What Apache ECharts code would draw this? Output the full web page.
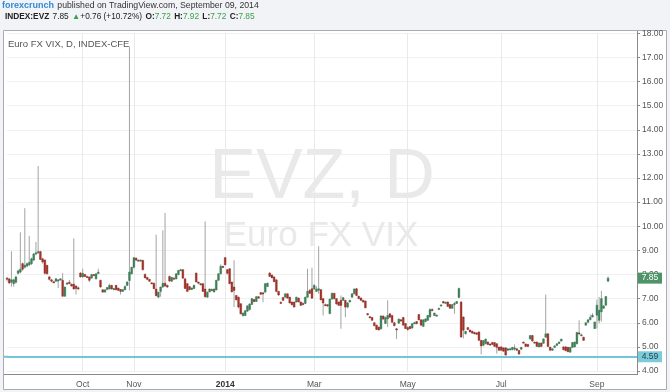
<!DOCTYPE html>
<html><head><meta charset="utf-8">
<script src="https://cdn.jsdelivr.net/npm/echarts@6/dist/echarts.min.js"></script>
<style>html,body{margin:0;padding:0;background:#f1f3f6;}#c{width:670px;height:392px;}</style>
</head><body><div id="c"></div>
<script>
// ---- data (EVZ daily) ----
const opens = [7.85,7.82,7.68,7.62,7.68,8.05,8.1,8.45,8.3,8.35,8.4,8.45,8.6,8.85,8.9,8.95,8.65,8.6,8.38,7.9,
7.78,7.7,7.72,7.76,7.8,7.76,7.1,7.62,7.68,7.6,7.6,7.52,7.45,8.06,7.9,8.0,7.92,7.9,7.85,8.0,
7.82,8.04,7.76,7.37,7.27,7.38,7.4,7.55,7.37,7.55,7.44,7.38,7.3,7.37,7.55,7.75,8.03,8.3,8.68,8.6,
8.58,8.59,8.0,7.88,7.8,7.66,7.64,7.4,7.06,7.3,7.48,7.64,7.55,7.92,7.72,7.85,7.82,8.0,8.17,8.2,
7.82,7.62,7.5,7.38,7.42,8.06,7.69,7.62,7.62,7.4,7.06,7.28,7.38,7.28,7.36,7.76,8.03,8.34,8.7,8.2,
8.24,7.69,7.48,7.13,7.06,6.79,6.3,6.3,6.48,6.55,6.76,6.96,6.88,7.08,7.25,7.24,7.27,7.5,8.06,7.98,
7.9,7.78,7.3,6.85,7.05,7.06,7.2,7.06,6.86,6.86,6.86,7.02,6.86,6.8,6.8,7.06,7.34,7.41,7.4,7.3,
7.35,7.37,7.0,6.75,6.75,6.38,6.98,7.22,7.0,6.86,6.93,6.93,6.93,6.65,6.86,7.06,7.2,7.41,7.1,7.03,
6.93,6.9,6.38,6.25,6.22,6.0,5.9,5.82,5.75,6.28,5.97,6.16,6.37,6.3,6.0,5.75,5.98,6.12,6.22,5.97,
5.8,5.85,5.78,5.98,6.05,6.34,6.12,5.85,6.05,6.1,6.25,6.55,6.3,6.3,6.55,6.7,6.88,6.84,6.86,6.76,
6.6,6.76,6.8,7.05,6.86,6.24,5.55,5.8,5.7,5.65,5.6,5.58,5.62,5.27,5.07,5.14,5.2,5.12,5.18,5.18,
5.13,4.99,5.0,4.96,4.96,4.86,4.9,4.88,4.95,4.92,4.85,4.9,5.2,5.12,5.1,5.33,5.47,5.2,5.2,5.0,
5.16,5.15,5.4,5.54,4.99,4.86,4.98,5.06,5.14,5.24,5.0,5.0,4.98,4.78,4.98,5.0,5.13,5.58,5.5,5.4,
5.9,6.02,6.13,6.24,5.76,6.31,6.1,6.45,6.6,6.73,7.72];
const highs = [7.9,7.85,8.96,7.82,7.95,8.2,9.75,8.5,10.75,8.5,9.6,8.7,8.9,9.35,12.5,8.98,8.7,8.62,8.4,7.95,
7.82,7.74,7.85,7.8,7.85,8.06,7.5,7.68,7.78,7.62,9.5,7.55,7.5,8.1,8.24,8.02,7.94,7.92,8.02,8.02,
8.05,8.24,7.78,7.38,7.4,7.48,7.62,7.57,7.44,7.57,7.45,7.4,7.4,7.55,7.72,17.45,8.32,8.72,8.7,8.62,
8.62,8.6,8.05,7.9,7.82,7.67,7.66,9.65,7.28,7.5,9.83,10.55,7.58,7.95,7.9,7.88,8.05,8.18,8.24,8.22,
7.84,7.65,7.52,7.46,7.58,8.08,7.7,7.64,7.64,10.2,7.3,7.42,7.42,7.42,7.78,8.05,8.42,8.36,8.72,8.22,
8.26,7.7,8.59,7.15,7.08,6.8,6.42,6.52,6.72,6.8,7.02,6.98,7.1,7.1,7.27,7.26,7.64,7.66,8.1,8.0,
7.92,7.8,7.32,6.88,7.06,7.22,7.22,7.08,6.88,6.88,7.08,7.04,6.88,6.84,7.08,8.24,7.4,8.28,7.6,7.52,
9.17,7.4,7.02,6.8,6.76,7.0,7.25,7.24,7.02,6.88,7.13,7.06,6.95,6.86,6.95,7.22,7.42,7.44,7.12,7.04,
6.95,6.92,6.4,6.28,6.24,6.02,5.92,5.84,6.32,6.3,6.25,6.93,6.4,6.32,6.02,5.78,6.18,6.15,6.24,5.98,
5.85,5.86,5.98,6.04,6.07,6.36,6.14,6.15,6.18,6.32,6.6,6.6,6.42,6.34,6.62,6.76,6.9,6.88,6.88,6.78,
6.78,6.86,6.9,7.46,6.9,6.26,5.66,5.82,5.72,5.67,5.62,5.6,5.64,5.28,5.28,5.35,5.22,5.14,5.2,5.2,
5.15,5.0,5.02,4.98,4.98,4.94,4.94,5.0,5.1,4.94,4.88,5.0,5.22,5.14,5.12,5.48,5.5,5.22,5.22,5.18,
5.18,5.35,7.17,5.56,5.0,4.94,5.06,5.15,5.22,5.34,5.02,5.02,5.0,5.0,5.2,5.22,5.62,6.1,5.55,5.42,
6.02,6.14,6.34,6.4,6.05,6.96,7.07,7.32,6.72,7.1,7.92];
const lows = [7.72,7.6,7.5,7.5,7.62,8.0,8.05,8.15,8.25,8.3,8.35,8.4,8.55,8.8,8.85,8.6,8.45,8.0,8.0,7.75,
7.68,7.66,7.7,7.44,7.75,7.08,7.08,7.58,7.6,7.5,7.38,7.17,7.35,7.88,7.88,7.9,7.86,7.69,7.83,7.95,
7.8,8.02,7.46,7.25,7.25,7.35,7.38,7.38,7.35,7.35,7.33,7.17,7.28,7.35,7.52,7.34,8.0,8.25,8.55,8.55,
8.55,8.17,7.85,7.76,7.69,7.6,7.4,7.1,7.04,7.08,7.45,7.5,7.45,7.7,7.7,7.8,7.8,7.96,8.15,7.82,
7.41,7.28,7.35,7.36,7.4,7.68,7.6,7.55,7.28,7.04,7.04,7.26,7.34,7.26,7.34,7.74,8.0,8.28,8.38,8.0,
7.6,7.26,6.65,6.93,6.6,6.35,6.25,6.28,6.45,6.5,6.74,6.85,6.86,7.0,7.15,6.85,7.25,7.48,7.9,7.85,
7.69,7.27,7.12,6.78,6.9,7.04,7.0,6.8,6.72,6.64,6.84,6.85,6.7,6.76,6.78,7.04,7.2,7.0,7.38,7.28,
7.2,6.93,6.3,6.7,6.65,6.36,6.96,6.96,6.75,6.7,5.75,6.9,6.23,6.6,6.84,7.04,7.18,7.1,6.98,6.9,
6.83,6.6,6.3,6.2,6.08,5.85,5.7,5.68,5.72,6.14,5.95,5.82,6.22,6.0,5.85,5.33,5.96,6.05,5.88,5.74,
5.66,5.74,5.76,5.95,5.94,6.1,5.88,5.82,6.02,6.08,6.2,6.48,6.28,6.26,6.53,6.68,6.8,6.8,6.65,6.58,
6.58,6.37,6.78,7.02,5.38,5.35,5.5,5.7,5.6,5.55,5.52,5.5,5.25,4.69,5.02,5.1,5.08,5.08,5.08,5.0,
4.72,4.84,4.84,4.8,4.64,4.84,4.88,4.86,4.84,4.84,4.68,4.88,5.16,5.0,5.0,5.3,5.22,5.16,5.0,4.98,
5.0,5.13,5.38,5.0,4.84,4.84,4.96,5.04,5.12,5.22,4.86,4.82,4.78,4.76,4.96,4.98,5.1,5.52,5.45,5.25,
5.88,6.0,6.1,6.22,5.74,5.76,5.98,6.05,6.58,6.7,7.72];
const closes = [7.8,7.65,7.78,7.78,7.9,8.15,8.22,8.22,8.38,8.45,8.5,8.65,8.85,8.9,8.95,8.62,8.52,8.05,8.03,7.8,
7.72,7.69,7.82,7.78,7.82,7.1,7.48,7.65,7.62,7.52,7.4,7.42,7.42,7.9,8.05,7.92,7.88,7.76,8.0,7.98,
8.03,8.1,7.48,7.27,7.36,7.46,7.55,7.4,7.42,7.37,7.34,7.3,7.37,7.5,7.69,8.1,8.3,8.7,8.6,8.58,
8.6,8.2,7.86,7.8,7.72,7.62,7.41,7.12,7.27,7.48,7.64,7.52,7.48,7.73,7.88,7.82,8.03,8.17,8.2,7.85,
7.42,7.3,7.37,7.44,7.55,7.69,7.64,7.58,7.3,7.08,7.26,7.4,7.37,7.4,7.76,8.03,8.34,8.3,8.4,8.05,
7.62,7.28,7.34,6.95,6.65,6.37,6.4,6.5,6.7,6.78,7.0,6.88,7.08,7.02,7.18,7.2,7.62,7.64,7.92,7.86,
7.7,7.3,7.15,6.8,6.93,7.2,7.02,6.82,6.75,6.65,7.06,6.86,6.72,6.79,7.06,7.3,7.22,7.02,7.55,7.4,
7.41,6.95,6.82,6.72,6.7,6.98,7.22,7.0,6.78,6.72,6.72,7.04,6.65,6.82,6.93,7.2,7.4,7.13,7.0,6.93,
6.86,6.62,6.33,6.22,6.1,5.88,5.72,5.7,6.28,6.15,6.22,6.3,6.23,6.02,5.88,5.73,6.15,6.08,5.9,5.76,
5.72,5.75,5.96,6.0,5.96,6.12,5.9,6.12,6.16,6.3,6.55,6.5,6.4,6.32,6.6,6.74,6.82,6.85,6.68,6.6,
6.75,6.8,6.88,7.42,5.41,5.69,5.64,5.72,5.62,5.57,5.54,5.52,5.27,5.04,5.26,5.32,5.1,5.11,5.1,5.02,
4.98,4.86,4.86,4.82,4.66,4.92,4.92,4.98,4.96,4.86,4.7,4.98,5.18,5.02,5.02,5.47,5.24,5.18,5.02,5.16,
5.02,5.33,5.54,5.02,4.86,4.92,5.04,5.13,5.2,5.32,4.88,4.84,4.8,4.98,5.18,5.2,5.6,5.54,5.5,5.27,
6.0,6.12,6.22,6.31,6.03,6.73,6.52,7.0,6.7,7.09,7.85];
const firstDate = '2013-08-13';
const holidays = ['2013-09-02','2013-11-28','2013-12-25','2014-01-01','2014-01-20','2014-02-17','2014-04-18','2014-05-26','2014-07-04','2014-09-01'];
const emptySlots = 13;
const monthDates = ['2013-10-01','2013-11-01','2014-01-02','2014-03-03','2014-05-01','2014-07-01','2014-09-02'];
const monthTexts = ['Oct','Nov','2014','Mar','May','Jul','Sep'];
const levelLine = 4.59;
const yMin = 4, yMax = 18, yStep = 1;

// ---- categories (trading days) ----
const dates = [];
{
  const d = new Date(firstDate + 'T00:00:00Z');
  while (dates.length < closes.length + emptySlots) {
    const s = d.toISOString().slice(0, 10), wd = d.getUTCDay();
    if (wd !== 0 && wd !== 6 && holidays.indexOf(s) < 0) dates.push(s);
    d.setUTCDate(d.getUTCDate() + 1);
  }
}
const labelAt = {};
monthDates.forEach((m, k) => { labelAt[m] = monthTexts[k]; });

const candles = closes.map((c, i) => [i, opens[i], highs[i], lows[i], c]);
const n = closes.length;
const lastC = closes[n - 1], prevC = closes[n - 2];
const chg = lastC - prevC, pct = chg / prevC * 100;

const UP = '#3d875a', UPB = '#2a6542', DN = '#ad3328', DNB = '#7f231b';

function renderItem(params, api) {
  const i = api.value(0), o = api.value(1), h = api.value(2), l = api.value(3), c = api.value(4);
  const pO = api.coord([i, o]), pC = api.coord([i, c]), pH = api.coord([i, h]), pL = api.coord([i, l]);
  const x = pO[0];
  const w = api.size([1, 0])[0] * 0.8;
  const up = c >= o;
  const top = Math.min(pO[1], pC[1]), bot = Math.max(pO[1], pC[1]);
  return { type: 'group', children: [
    { type: 'line', shape: { x1: x, y1: pH[1], x2: x, y2: pL[1] }, style: { stroke: '#a3a3a3', lineWidth: 1 } },
    { type: 'rect', shape: { x: x - w / 2, y: top, width: w, height: Math.max(bot - top, 1.2) },
      style: { fill: up ? UP : DN, stroke: up ? UPB : DNB, lineWidth: 0.4 } }
  ]};
}

const chart = echarts.init(document.getElementById('c'), null, { renderer: 'canvas' });
const FONT = '"Liberation Sans", Arial, sans-serif';
chart.setOption({
  animation: false,
  backgroundColor: '#f1f3f6',
  grid: { left: 7, right: 33, top: 33.3, bottom: 21 },
  xAxis: {
    type: 'category', data: dates, boundaryGap: false,
    axisLine: { show: false }, axisTick: { show: false },
    axisLabel: {
      interval: (idx, v) => labelAt[v] !== undefined,
      formatter: v => labelAt[v] === '2014' ? '{b|2014}' : (labelAt[v] || ''),
      color: '#555', fontSize: 8.5, fontFamily: FONT, margin: 9,
      rich: { b: { fontWeight: 'bold', color: '#333', fontSize: 8.5, fontFamily: FONT } }
    },
    splitLine: { show: true, interval: (idx, v) => labelAt[v] !== undefined, lineStyle: { color: '#e9e9e9', width: 1 } }
  },
  yAxis: {
    type: 'value', position: 'right', min: yMin, max: yMax, interval: yStep,
    axisLine: { show: false },
    axisTick: { show: true, length: 3, lineStyle: { color: '#888' } },
    axisLabel: { formatter: v => v.toFixed(2), color: '#555', fontSize: 8.5, fontFamily: FONT, margin: 5 },
    splitLine: { lineStyle: { color: '#f0f0f0', width: 1 } }
  },
  series: [{
    type: 'custom', renderItem: renderItem, data: candles, clip: false,
    encode: { x: 0, y: [1, 2, 3, 4] }, z: 5,
    markLine: {
      silent: true, symbol: ['none', 'none'], label: { show: false },
      lineStyle: { color: '#72c6d6', width: 2, type: 'solid' },
      data: [{ yAxis: levelLine }]
    }
  }]
});

// decorations placed using the chart's own scales
const yLast = chart.convertToPixel({ yAxisIndex: 0 }, lastC);
const yLevel = chart.convertToPixel({ yAxisIndex: 0 }, levelLine);
const gridRight = 637;
chart.setOption({
  graphic: [
    { type: 'rect', z: -10, shape: { x: 3.5, y: 30.5, width: 663, height: 359 }, style: { fill: '#fff', stroke: '#a9acb0', lineWidth: 1 } },
    { type: 'line', z: 10, shape: { x1: gridRight + 0.5, y1: 31, x2: gridRight + 0.5, y2: 375 }, style: { stroke: '#8a8a8a', lineWidth: 1 } },
    { type: 'line', z: 10, shape: { x1: 4, y1: 374.5, x2: gridRight + 1, y2: 374.5 }, style: { stroke: '#8a8a8a', lineWidth: 1 } },
    { type: 'line', z: 1, shape: { x1: 4, y1: yLevel, x2: 8, y2: yLevel }, style: { stroke: '#72c6d6', lineWidth: 2 } },
    { type: 'text', z: 1, style: { text: 'EVZ, D', x: 322, y: 179, align: 'center', verticalAlign: 'middle', font: '70px ' + FONT, fill: '#e9e9e9' } },
    { type: 'text', z: 1, style: { text: 'Euro FX VIX', x: 321, y: 236, align: 'center', verticalAlign: 'middle', font: '35px ' + FONT, fill: '#e9e9e9' } },
    { type: 'text', z: 20, style: { text: 'Euro FX VIX, D, INDEX-CFE', x: 8, y: 44, verticalAlign: 'middle', font: '9.5px ' + FONT, fill: '#555' } },
    { type: 'rect', z: 20, shape: { x: 638, y: yLast - 5.5, width: 24, height: 11 }, style: { fill: '#4e9468' } },
    { type: 'text', z: 21, style: { text: lastC.toFixed(2), x: 650, y: yLast, align: 'center', verticalAlign: 'middle', font: '8.5px ' + FONT, fill: '#fff' } },
    { type: 'rect', z: 20, shape: { x: 638, y: yLevel - 5.5, width: 24, height: 11 }, style: { fill: '#7ccbdb' } },
    { type: 'text', z: 21, style: { text: levelLine.toFixed(2), x: 650, y: yLevel, align: 'center', verticalAlign: 'middle', font: '8.5px ' + FONT, fill: '#1d3d45' } },
    { type: 'text', z: 20, style: {
      x: 2, y: 6, verticalAlign: 'middle',
      text: '{a|forexcrunch} {p|published on TradingView.com, September 09, 2014}',
      rich: { a: { fontFamily: FONT, fontSize: 9, fontWeight: 'bold', fill: '#3388d6', color: '#3388d6' },
              p: { fontFamily: FONT, fontSize: 8.7, fill: '#333', color: '#333' } }
    } },
    { type: 'text', z: 20, style: {
      x: 5, y: 17, verticalAlign: 'middle',
      text: '{b|INDEX:EVZ} {n|' + lastC.toFixed(2) + '} {g|▲}{n|' + (chg >= 0 ? '+' : '') + chg.toFixed(2) + ' (' + (pct >= 0 ? '+' : '') + pct.toFixed(2) + '%)} ' +
            '{b|O:}{v|' + opens[n - 1].toFixed(2) + '} {b|H:}{v|' + highs[n - 1].toFixed(2) + '} {b|L:}{v|' + lows[n - 1].toFixed(2) + '} {b|C:}{v|' + lastC.toFixed(2) + '}',
      rich: { b: { fontFamily: FONT, fontSize: 8.3, fontWeight: 'bold', fill: '#222', color: '#222' },
              n: { fontFamily: FONT, fontSize: 8.3, fill: '#222', color: '#222' },
              g: { fontFamily: FONT, fontSize: 8.3, fill: '#3aa14a', color: '#3aa14a' },
              v: { fontFamily: FONT, fontSize: 8.3, fill: '#3aa14a', color: '#3aa14a' } }
    } }
  ]
});
</script></body></html>
